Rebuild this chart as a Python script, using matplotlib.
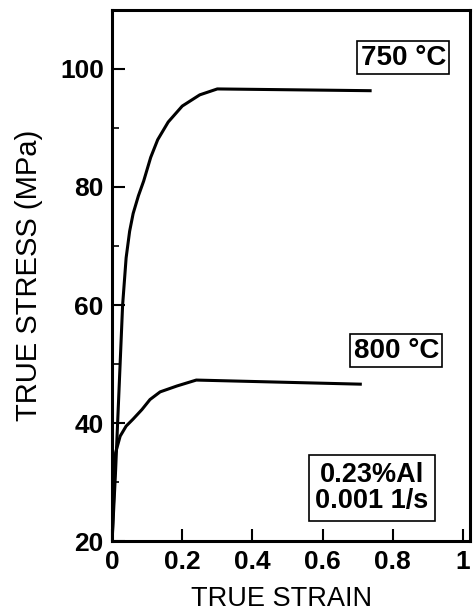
import numpy as np
import matplotlib.pyplot as plt
from matplotlib.ticker import MultipleLocator

# 750 C flow curve (true strain, true stress MPa)
strain_750 = [0.0, 0.01, 0.02, 0.03, 0.04, 0.05, 0.06, 0.075, 0.09, 0.11, 0.13, 0.16, 0.2, 0.25, 0.3, 0.74]
stress_750 = [20.0, 32.0, 46.0, 60.0, 68.0, 72.5, 75.5, 78.5, 81.0, 85.0, 88.0, 91.0, 93.7, 95.6, 96.6, 96.3]

# 800 C flow curve
strain_800 = [0.0, 0.005, 0.01, 0.023, 0.04, 0.06, 0.085, 0.108, 0.137, 0.185, 0.24, 0.712]
stress_800 = [20.0, 28.0, 35.0, 37.8, 39.5, 40.7, 42.3, 44.0, 45.3, 46.3, 47.3, 46.6]

xticks = [0, 0.2, 0.4, 0.6, 0.8, 1]
xticklabels = ['0', '0.2', '0.4', '0.6', '0.8', '1']
yticks = [20, 40, 60, 80, 100]

plt.rcParams['font.family'] = ['Liberation Sans', 'DejaVu Sans']

fig = plt.figure(figsize=(4.77, 6.13), dpi=100)
ax = fig.add_axes([0.235, 0.117, 0.75, 0.867])

ax.plot(strain_750, stress_750, color='black', lw=2.2, solid_capstyle='butt')
ax.plot(strain_800, stress_800, color='black', lw=2.2, solid_capstyle='butt')

ax.set_xlim(0, 1.02)
ax.set_ylim(20, 110)
ax.set_xticks(xticks)
ax.set_xticklabels(xticklabels)
ax.set_yticks(yticks)
ax.yaxis.set_minor_locator(MultipleLocator(10))

ax.tick_params(axis='both', which='major', direction='in', length=9, width=1.5,
               labelsize=19, pad=6)
ax.tick_params(axis='y', which='minor', direction='in', length=5, width=1.2)
ax.tick_params(top=False, right=False)
for lab in ax.get_xticklabels() + ax.get_yticklabels():
    lab.set_fontweight('bold')

for sp in ax.spines.values():
    sp.set_linewidth(2.2)

ax.set_xlabel('TRUE STRAIN', fontsize=19.5, labelpad=4)
ax.set_ylabel('TRUE STRESS (MPa)', fontsize=21, labelpad=12)
ax.xaxis.set_label_coords(0.475, -0.085)

box = dict(boxstyle='square,pad=0.12', facecolor='white', edgecolor='black', lw=1.2)
ax.text(0.83, 101.9, '750 \u00b0C', fontsize=20, fontweight='bold',
        ha='center', va='center', bbox=box)
ax.text(0.81, 52.3, '800 \u00b0C', fontsize=20, fontweight='bold',
        ha='center', va='center', bbox=box)
ax.text(0.741, 29.0, '0.23%Al\n0.001 1/s', fontsize=19.5, fontweight='bold',
        ha='center', va='center', linespacing=1.0,
        bbox=dict(boxstyle='square,pad=0.25', facecolor='white',
                  edgecolor='black', lw=1.2))

fig.savefig('out.png', dpi=100)
